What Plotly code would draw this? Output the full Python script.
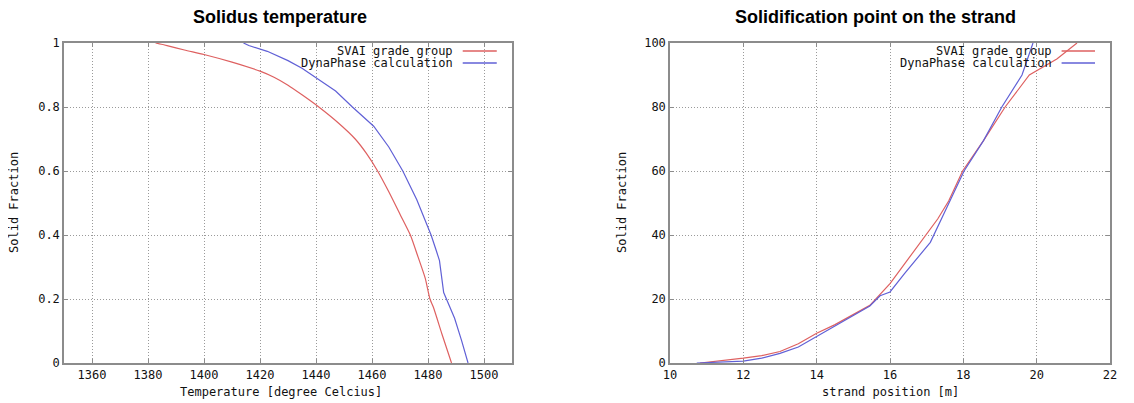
import plotly.graph_objects as go

# ---- Data: Solidus temperature ----
temp_svai = [1382.7, 1386.8, 1393, 1400, 1410, 1420, 1425, 1430, 1435, 1441, 1448, 1454, 1458, 1462,
             1466, 1470, 1473.7, 1476.5, 1479, 1480.7, 1481.9, 1485, 1488.4]
frac_svai = [1.0, 0.992, 0.978, 0.964, 0.94, 0.912, 0.893, 0.868, 0.838, 0.80, 0.75, 0.70, 0.655, 0.60,
             0.535, 0.465, 0.40, 0.33, 0.265, 0.20, 0.175, 0.09, 0.0]
temp_dyna = [1414.1, 1416, 1422.6, 1430, 1435, 1440.3, 1447, 1453, 1460.6, 1466, 1471, 1476,
             1481.1, 1483, 1484.1, 1485.6, 1487.5, 1489.5, 1492, 1494.3]
frac_dyna = [1.0, 0.992, 0.974, 0.945, 0.921, 0.89, 0.85, 0.80, 0.74, 0.675, 0.60, 0.51,
             0.40, 0.35, 0.32, 0.22, 0.18, 0.14, 0.07, 0.0]

# ---- Data: Solidification point on the strand ----
pos_svai = [10.82, 11.5, 12, 12.5, 13, 13.5, 14, 14.5, 15, 15.45, 16, 16.4, 16.8, 17,
            17.3, 17.6, 17.98, 18.55, 19.14, 19.8, 20.55, 21.1]
sf_svai = [0, 0.8, 1.5, 2.3, 3.6, 6, 9.3, 12, 15.2, 18, 24.8, 31, 37.2, 40.3,
           45, 50.6, 60, 69.5, 80, 90, 95, 100]
pos_dyna = [10.73, 11.2, 12, 12.5, 13, 13.5, 14, 14.5, 15, 15.45, 15.73, 16, 16.4, 16.8,
            17.1, 17.55, 18.02, 18.55, 19.05, 19.6, 19.9]
sf_dyna = [0, 0.3, 0.6, 1.5, 3, 5, 8.3, 11.5, 15, 17.8, 21, 22.2, 28, 33.6,
           37.7, 48.6, 60, 69.5, 80, 90, 100]

legend_names = ["SVAI grade group", "DynaPhase calculation"]
titles = ["Solidus temperature", "Solidification point on the strand"]
xtitles = ["Temperature [degree Celcius]", "strand position [m]"]
ytitle = "Solid Fraction"

RED = "rgb(222,96,96)"
BLUE = "rgb(96,96,214)"
MONO = "DejaVu Sans Mono, Liberation Mono, monospace"

# page body has an 8px margin: figure is drawn at (8,8) in the window
OFF = 8
W, H = 1134 - OFF, 403 - OFF
fig = go.Figure()

fig.add_trace(go.Scatter(x=temp_svai, y=frac_svai, mode="lines", name=legend_names[0],
                         line=dict(color=RED, width=1.2, shape="spline", smoothing=0.6),
                         xaxis="x", yaxis="y", showlegend=False))
fig.add_trace(go.Scatter(x=temp_dyna, y=frac_dyna, mode="lines", name=legend_names[1],
                         line=dict(color=BLUE, width=1.2), xaxis="x", yaxis="y", showlegend=False))
fig.add_trace(go.Scatter(x=pos_svai, y=sf_svai, mode="lines", name=legend_names[0],
                         line=dict(color=RED, width=1.2), xaxis="x2", yaxis="y2", showlegend=False))
fig.add_trace(go.Scatter(x=pos_dyna, y=sf_dyna, mode="lines", name=legend_names[1],
                         line=dict(color=BLUE, width=1.2), xaxis="x2", yaxis="y2", showlegend=False))

def px_x(p):
    return (p - OFF) / W

def px_y(p):
    return (H - (p - OFF)) / H

ydom = [px_y(363), px_y(43)]
axis_common = dict(showgrid=True, gridcolor="#9a9a9a", griddash="1px,2px", gridwidth=1,
                   showline=True, linecolor="#8c8c8c", linewidth=1.5, mirror="ticks",
                   ticks="inside", ticklen=4, tickcolor="#8c8c8c", automargin=False,
                   tickfont=dict(family=MONO, size=12, color="#111"), zeroline=False)

fig.update_layout(
    width=W, height=H, margin=dict(l=0, r=0, t=0, b=0),
    paper_bgcolor="white", plot_bgcolor="white", showlegend=False,
    xaxis=dict(domain=[px_x(64), px_x(512)], range=[1350, 1510], dtick=20,
               anchor="y", **axis_common),
    yaxis=dict(domain=ydom, range=[0, 1], anchor="x",
               tickvals=[0, 0.2, 0.4, 0.6, 0.8, 1], ticktext=["0", "0.2", "0.4", "0.6", "0.8", "1"],
               **axis_common),
    xaxis2=dict(domain=[px_x(670), px_x(1110)], range=[10, 22], dtick=2,
                anchor="y2", **axis_common),
    yaxis2=dict(domain=ydom, range=[0, 100], dtick=20, anchor="x2", **axis_common),
)

annotations = []
shapes = []
# titles
for cx, t in zip([280, 875], titles):
    annotations.append(dict(text="<b>%s</b>" % t, x=px_x(cx), y=px_y(17), xref="paper", yref="paper",
                            showarrow=False, xanchor="center", yanchor="middle",
                            font=dict(family="Liberation Sans Narrow, Arial Narrow, Liberation Sans, sans-serif",
                                      size=18, color="black")))
# x titles
for cx, t in zip([281, 890], xtitles):
    annotations.append(dict(text=t, x=px_x(cx), y=px_y(392), xref="paper", yref="paper",
                            showarrow=False, xanchor="center", yanchor="middle",
                            font=dict(family=MONO, size=12, color="#111")))
# y titles
for cx in [14, 622]:
    annotations.append(dict(text=ytitle, x=px_x(cx), y=px_y(203), xref="paper", yref="paper",
                            showarrow=False, xanchor="center", yanchor="middle", textangle=-90,
                            font=dict(family=MONO, size=12, color="#111")))
# custom gnuplot-style legends (text then line sample)
for xr, yr in [("x domain", "y domain"), ("x2 domain", "y2 domain")]:
    for i, (name, col) in enumerate(zip(legend_names, [RED, BLUE])):
        yy = 0.975 - i * 0.0375
        annotations.append(dict(text=name, x=0.872, y=yy, xref=xr, yref=yr, showarrow=False,
                                xanchor="right", yanchor="middle",
                                font=dict(family=MONO, size=12, color="#111")))
        shapes.append(dict(type="line", x0=0.89, x1=0.966, y0=yy, y1=yy, xref=xr, yref=yr,
                           line=dict(color=col, width=1.5)))

fig.update_layout(annotations=annotations, shapes=shapes)
fig.write_html("out.html")
